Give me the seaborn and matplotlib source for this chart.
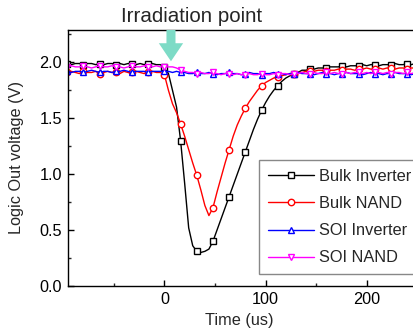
import numpy as np
import matplotlib
matplotlib.use("Agg")
import matplotlib.pyplot as plt
import seaborn as sns

# 数据
time_us = np.arange(-96, 249, 4)

bulk_inverter = [1.99, 1.98, 1.99, 1.99, 1.98, 1.99, 1.99, 1.98, 1.99, 1.98, 1.99, 1.99,
                 1.98, 1.99, 1.98, 1.99, 1.99, 1.98, 1.99, 1.98, 1.99, 1.99, 1.98, 1.98,
                 1.96, 1.90, 1.75, 1.60, 1.30, 0.92, 0.52, 0.36, 0.31, 0.30, 0.31, 0.33,
                 0.40, 0.50, 0.60, 0.70, 0.80, 0.90, 1.00, 1.10, 1.20, 1.30, 1.40, 1.49,
                 1.57, 1.64, 1.70, 1.75, 1.79, 1.83, 1.86, 1.88, 1.90, 1.91, 1.93,
                 1.93, 1.94, 1.94, 1.95, 1.95, 1.95, 1.96, 1.96, 1.96, 1.97, 1.96, 1.97,
                 1.97, 1.97, 1.98, 1.97, 1.98, 1.98, 1.97, 1.98, 1.98, 1.98, 1.99, 1.98,
                 1.98, 1.99, 1.98, 1.99]

bulk_nand = [1.91, 1.92, 1.91, 1.90, 1.92, 1.91, 1.91, 1.92, 1.90, 1.91, 1.92, 1.91,
             1.91, 1.90, 1.92, 1.91, 1.91, 1.92, 1.91, 1.90, 1.91, 1.92, 1.91, 1.91,
             1.89, 1.75, 1.63, 1.55, 1.45, 1.34, 1.22, 1.10, 0.99, 0.86, 0.72, 0.63,
             0.70, 0.84, 0.97, 1.10, 1.22, 1.34, 1.44, 1.52, 1.59, 1.65, 1.70, 1.75,
             1.79, 1.82, 1.84, 1.86, 1.87, 1.88, 1.89, 1.90, 1.90, 1.91, 1.91,
             1.92, 1.92, 1.92, 1.93, 1.93, 1.92, 1.93, 1.93, 1.94, 1.93, 1.94, 1.94,
             1.93, 1.94, 1.94, 1.95, 1.94, 1.94, 1.95, 1.94, 1.95, 1.95, 1.94, 1.95,
             1.95, 1.94, 1.95, 1.95]

soi_inverter = [1.92, 1.91, 1.92, 1.92, 1.91, 1.92, 1.93, 1.92, 1.91, 1.92, 1.92, 1.91,
                1.92, 1.92, 1.93, 1.92, 1.91, 1.92, 1.92, 1.92, 1.91, 1.92, 1.92, 1.92,
                1.92, 1.92, 1.91, 1.92, 1.91, 1.91, 1.90, 1.90, 1.91, 1.90,
                1.90, 1.91, 1.90, 1.89, 1.90, 1.90, 1.91, 1.90, 1.90, 1.89,
                1.90, 1.91, 1.90, 1.90, 1.89, 1.90, 1.90, 1.91, 1.90, 1.90,
                1.89, 1.90, 1.90, 1.91, 1.90, 1.90, 1.90, 1.89, 1.90, 1.91,
                1.90, 1.90, 1.89, 1.90, 1.90, 1.91, 1.90, 1.90, 1.90, 1.89,
                1.90, 1.91, 1.90, 1.90, 1.89, 1.90, 1.90, 1.91, 1.90, 1.90,
                1.90, 1.89, 1.90]

soi_nand = [1.96, 1.97, 1.96, 1.96, 1.97, 1.96, 1.95, 1.96, 1.97, 1.96, 1.96, 1.97,
            1.96, 1.96, 1.95, 1.96, 1.97, 1.96, 1.96, 1.97, 1.96, 1.96, 1.97, 1.96,
            1.96, 1.96, 1.96, 1.95, 1.93, 1.92, 1.91, 1.91, 1.90, 1.91,
            1.90, 1.90, 1.91, 1.90, 1.89, 1.90, 1.90, 1.89, 1.90, 1.89,
            1.89, 1.90, 1.89, 1.89, 1.90, 1.89, 1.89, 1.90, 1.89, 1.90,
            1.90, 1.89, 1.90, 1.90, 1.91, 1.90, 1.90, 1.91, 1.90, 1.90,
            1.91, 1.90, 1.91, 1.90, 1.90, 1.91, 1.90, 1.91, 1.91, 1.90,
            1.91, 1.90, 1.91, 1.91, 1.90, 1.91, 1.90, 1.91, 1.91, 1.90,
            1.91, 1.90, 1.91]

series = [("Bulk Inverter", bulk_inverter, "black", "s"),
          ("Bulk NAND", bulk_nand, "red", "o"),
          ("SOI Inverter", soi_inverter, "blue", "^"),
          ("SOI NAND", soi_nand, "magenta", "v")]

sns.set_style("ticks")
plt.rcParams['font.family'] = ['Liberation Sans', 'DejaVu Sans']
plt.rcParams['axes.unicode_minus'] = False

fig = plt.figure(figsize=(4.13, 3.35), dpi=100)
ax = fig.add_axes([0.1654, 0.1463, 0.845, 0.7642])

for name, vals, col, mk in series:
    sns.lineplot(x=time_us, y=vals, ax=ax, color=col, lw=1.0, marker=mk,
                 markevery=4, ms=4.6, mfc='white', mec=col, mew=1.0, label=name)

ax.set_xlim(-95, 250)
ax.set_ylim(0, 2.29)
ax.set_xticks([0, 100, 200])
ax.set_xticks([-50, 50, 150, 250], minor=True)
ax.set_yticks([0, 0.5, 1.0, 1.5, 2.0])
ax.set_yticklabels(["0.0", "0.5", "1.0", "1.5", "2.0"])
ax.set_yticks([0.25, 0.75, 1.25, 1.75, 2.25], minor=True)
ax.tick_params(which='major', direction='in', length=4, width=1, labelsize=11.7, pad=4.5, colors='black')
ax.tick_params(which='minor', direction='in', length=2.5, width=1)
for sp in ax.spines.values():
    sp.set_linewidth(1.0)
    sp.set_color('black')

ax.set_xlabel("Time (us)", fontsize=11.7)
ax.set_ylabel("Logic Out voltage (V)", fontsize=11.7)
ax.xaxis.set_label_coords(0.489, -0.105)
ax.yaxis.set_label_coords(-0.127, 0.5)

# 照射点箭头
ax.annotate('', xy=(6.5, 2.01), xytext=(6.5, 2.29),
            arrowprops=dict(width=6.5, headwidth=17.5, headlength=13,
                            facecolor='#7ddbc6', edgecolor='none', shrink=0),
            annotation_clip=False)
fig.text(192 / 413, 1 - 17 / 335, "Irradiation point", ha='center', va='center', fontsize=14.8)

leg = ax.legend(loc='upper left', bbox_to_anchor=(259 / 413, 1 - 160 / 335),
                bbox_transform=fig.transFigure, fontsize=11.8, frameon=True,
                fancybox=False, edgecolor='#888888', framealpha=1,
                handlelength=2.8, handletextpad=0.3, borderpad=0.55,
                labelspacing=0.74, borderaxespad=0)
leg.get_frame().set_linewidth(1.0)

fig.savefig("out.png", dpi=100)
